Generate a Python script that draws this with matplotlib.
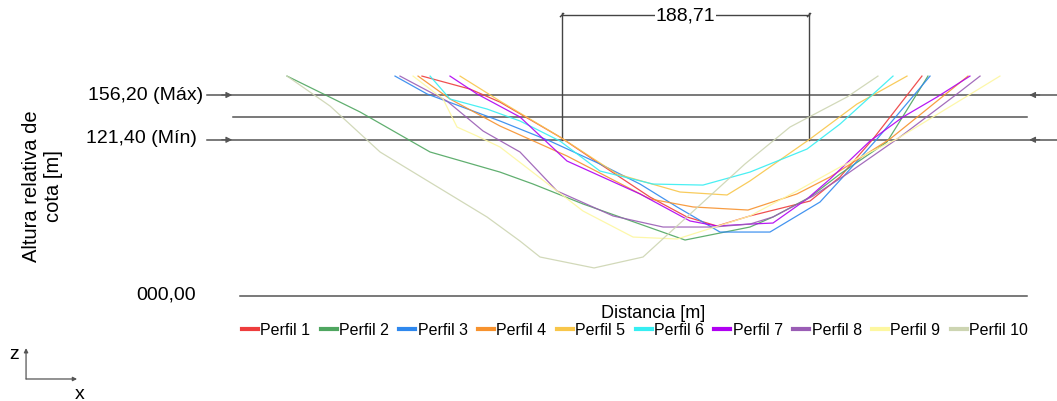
import matplotlib.pyplot as plt

plt.rcParams['font.family'] = ['Liberation Sans', 'DejaVu Sans']

# Perfiles transversales: distancia [m] y altura relativa de cota [m]
p1_x = [139.0, 175.7, 198.6, 244.5, 275.0, 313.2, 341.5, 364.4, 389.6, 435.5, 458.4, 483.6, 521.0]
p1_y = [170.9, 160.8, 150.7, 123.5, 102.6, 76.9, 61.4, 54.4, 62.2, 73.8, 92.5, 122.0, 170.9]

p2_x = [35.9, 91.7, 145.2, 198.6, 223.9, 262.1, 340.0, 389.6, 407.2, 435.5, 458.4, 494.3, 525.6]
p2_y = [170.9, 143.0, 111.9, 96.3, 87.0, 71.5, 43.5, 53.6, 61.4, 76.9, 94.8, 119.7, 170.9]

p3_x = [118.4, 142.9, 198.6, 236.8, 275.0, 305.6, 333.9, 366.7, 404.9, 443.1, 460.7, 486.7, 527.2]
p3_y = [170.9, 157.0, 136.0, 120.4, 102.6, 87.0, 69.2, 49.7, 49.7, 73.0, 92.5, 122.0, 170.9]

p4_x = [136.0, 160.4, 198.6, 249.8, 313.2, 346.1, 388.1, 425.5, 450.8, 496.6, 556.2]
p4_y = [170.9, 153.1, 132.1, 108.8, 75.4, 69.2, 66.8, 79.3, 92.5, 122.0, 170.9]

p5_x = [168.1, 198.6, 244.5, 288.0, 336.2, 372.1, 389.6, 435.5, 471.4, 509.6]
p5_y = [170.9, 151.5, 123.5, 94.8, 80.8, 78.5, 89.4, 122.0, 149.2, 170.9]

p6_x = [145.2, 160.4, 188.7, 213.9, 244.5, 275.0, 315.5, 353.7, 389.6, 433.2, 458.4, 498.9]
p6_y = [170.9, 153.1, 145.3, 136.0, 120.4, 97.1, 87.0, 86.2, 96.3, 114.2, 133.6, 170.9]

p7_x = [160.4, 181.1, 213.9, 249.8, 305.6, 343.8, 364.4, 389.6, 407.2, 433.2, 450.8, 481.3, 506.5, 532.5, 557.7]
p7_y = [170.9, 157.0, 139.1, 104.9, 79.3, 58.3, 54.4, 55.9, 56.7, 75.4, 90.9, 120.4, 139.1, 154.6, 170.9]

p8_x = [122.2, 158.1, 185.7, 213.9, 242.2, 285.0, 323.2, 361.4, 389.6, 407.2, 437.8, 463.7, 504.2, 547.8, 565.4]
p8_y = [170.9, 151.5, 128.2, 111.9, 81.6, 62.2, 53.6, 53.6, 55.9, 61.4, 77.7, 94.8, 123.5, 157.0, 170.9]

p9_x = [132.2, 155.1, 165.8, 181.1, 198.6, 262.1, 300.3, 333.9, 389.6, 425.5, 458.4, 501.9, 580.6]
p9_y = [170.9, 153.1, 131.3, 124.3, 115.8, 66.0, 45.8, 44.3, 62.2, 81.6, 100.2, 122.0, 170.9]

p10_x = [35.9, 68.8, 107.0, 188.7, 213.9, 229.2, 270.5, 307.9, 385.8, 420.2, 463.7, 487.4]
p10_y = [170.9, 147.6, 111.9, 61.4, 42.7, 30.3, 21.8, 30.3, 102.6, 131.3, 154.6, 170.9]

labels = ['Perfil 1', 'Perfil 2', 'Perfil 3', 'Perfil 4', 'Perfil 5',
          'Perfil 6', 'Perfil 7', 'Perfil 8', 'Perfil 9', 'Perfil 10']
colors = ['#ee3d3d', '#4fa660', '#2f88ee', '#f7922e', '#f8c64a',
          '#36eef2', '#b000f2', '#9a5db5', '#fdf7a0', '#cdd5b2']

cota_max = 156.20
cota_min = 121.40
cota_media = 138.8
ancho_cauce = 188.71
dim_x0 = 246.0

xs = [p1_x, p2_x, p3_x, p4_x, p5_x, p6_x, p7_x, p8_x, p9_x, p10_x]
ys = [p1_y, p2_y, p3_y, p4_y, p5_y, p6_y, p7_y, p8_y, p9_y, p10_y]

fig = plt.figure(figsize=(10.57, 4.02), dpi=100)
ax = fig.add_axes([0, 0, 1, 1])
ax.set_xlim(-183.4, 624.2)
ax.set_ylim(-81.6, 230.8)
ax.axis('off')

# reference levels
line_kw = dict(color='#555555', lw=1.1, zorder=1)
ax.plot([-25, 624], [cota_max, cota_max], **line_kw)
ax.plot([-25, 624], [cota_min, cota_min], **line_kw)
ax.plot([-5, 601.3], [cota_media, cota_media], **line_kw)
ax.plot([0, 601.3], [0, 0], **line_kw)

arrow_kw = dict(arrowstyle='-|>', color='#555555', lw=0.8, mutation_scale=9, shrinkA=0, shrinkB=0)
for yv in (cota_max, cota_min):
    ax.annotate('', xy=(-6, yv), xytext=(-14, yv), arrowprops=arrow_kw)
    ax.annotate('', xy=(603, yv), xytext=(611, yv), arrowprops=arrow_kw)

# profiles
for x, y, c in zip(xs, ys, colors):
    ax.plot(x, y, color=c, lw=0.9, alpha=0.9, zorder=3)

# dimension of the channel width
dim_x1 = dim_x0 + ancho_cauce
dim_y = 218.3
ax.plot([dim_x0, dim_x0], [cota_min, dim_y + 1.5], color='#444444', lw=1.0)
ax.plot([dim_x1, dim_x1], [cota_min, dim_y + 1.5], color='#444444', lw=1.0)
ax.plot([dim_x0, dim_x1], [dim_y, dim_y], color='#444444', lw=1.0)
for xv in (dim_x0, dim_x1):
    ax.plot([xv - 1.2, xv + 1.2], [dim_y - 1.2, dim_y + 1.2], color='#444444', lw=1.0)
ax.text((dim_x0 + dim_x1) / 2, dim_y, f'{ancho_cauce:.2f}'.replace('.', ','),
        ha='center', va='center', fontsize=14,
        bbox=dict(facecolor='white', edgecolor='none', pad=0.2))

# level labels
ax.text(-28.5, cota_max, f'{cota_max:.2f} (Máx)'.replace('.', ','), ha='right', va='center', fontsize=14)
ax.text(-33, cota_min + 1.5, f'{cota_min:.2f} (Mín)'.replace('.', ','), ha='right', va='center', fontsize=14)
ax.text(-33.5, 1.5, '000,00', ha='right', va='center', fontsize=14)

ax.text(-151.0, 86.0, 'Altura relativa de\ncota [m]', rotation=90, ha='center', va='center',
        fontsize=14.5, multialignment='center', linespacing=1.15)
ax.text(315.5, -13.0, 'Distancia [m]', ha='center', va='center', fontsize=13)

# z / x orientation sign
ax.annotate('', xy=(-163.5, -40.5), xytext=(-163.5, -64.5),
            arrowprops=dict(arrowstyle='-|>', color='#555555', lw=0.9, mutation_scale=6, shrinkA=0, shrinkB=0))
ax.annotate('', xy=(-124.5, -64.5), xytext=(-163.5, -64.5),
            arrowprops=dict(arrowstyle='-|>', color='#555555', lw=0.9, mutation_scale=6, shrinkA=0, shrinkB=0))
ax.text(-172.5, -45.0, 'z', ha='center', va='center', fontsize=14)
ax.text(-122.5, -75.5, 'x', ha='center', va='center', fontsize=14)

# legend
handles = [plt.Line2D([], [], color=c, lw=3) for c in colors]
fig.legend(handles, labels, loc='center', bbox_to_anchor=(635 / 1057, 1 - 331 / 402),
           ncol=10, frameon=False, fontsize=11.5, handlelength=1.0, handletextpad=0.15,
           columnspacing=0.65, borderpad=0)

fig.savefig('out.png', dpi=100)
